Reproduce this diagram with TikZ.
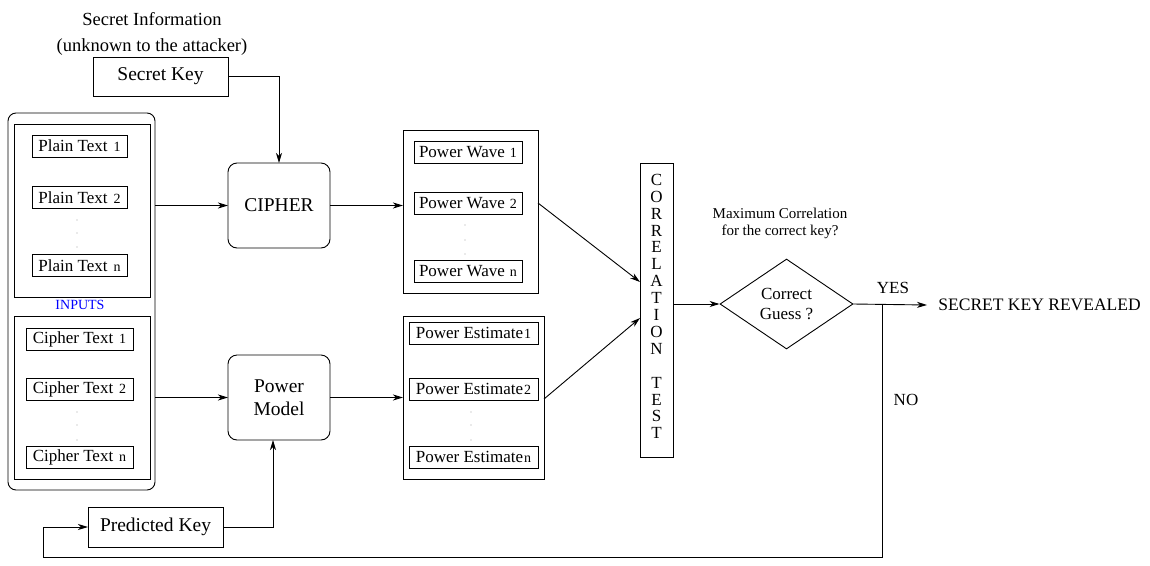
\documentclass[tikz,border=0pt]{standalone}
\usepackage{fontspec}
\setmainfont{Liberation Serif}
\usetikzlibrary{arrows.meta,shapes.geometric,calc}
\newcommand\subidx[1]{{\fontsize{14}{16}\selectfont #1}}
\begin{document}
\begin{tikzpicture}[x=1pt,y=-1pt,line width=0.9pt,
  big/.style={font=\fontsize{19.5}{23}\selectfont},
  mid/.style={font=\fontsize{17}{20}\selectfont},
  frame/.style={draw,inner sep=0pt,outer sep=0pt},
  rframe/.style={frame,rounded corners=9pt},
  item/.style={frame,mid,minimum height=22pt},
  arr/.style={-{Stealth[length=10pt,width=6pt,inset=3pt]}},
  dotmark/.style={fill=gray!70}]
\useasboundingbox (0,0) rectangle (1150,565);

% secret information
\node[font=\fontsize{18.5}{22}\selectfont,align=center] (secinfo) at (152,33.5)
  {Secret Information\\[4pt](unknown to the attacker)};
\node[frame,big,minimum width=135pt,minimum height=39pt] (sk) at (160.5,76.5) {Secret Key};

% inputs
\node[rframe,minimum width=147pt,minimum height=377pt,rounded corners=8pt] (inputs) at (81.5,301.5) {};
\node[frame,minimum width=136pt,minimum height=173pt] (pbox) at (82,210.5) {};
\node[frame,minimum width=136pt,minimum height=163pt] (cbox) at (82,397.5) {};
\node[font=\fontsize{14}{16}\selectfont,text=blue] (inlabel) at (80,305) {INPUTS};

\node[item,minimum width=95pt] (pt1) at (79.5,146) {Plain Text\hspace{6pt}\subidx{1}};
\node[item,minimum width=95pt] (pt2) at (79.5,197.5) {Plain Text\hspace{6pt}\subidx{2}};
\node[item,minimum width=95pt] (ptn) at (79.5,265.5) {Plain Text\hspace{6pt}\subidx{n}};
\foreach \y in {220,233,247} \fill[dotmark] (77,\y) circle (0.7);

\node[item,minimum width=107pt] (ct1) at (79.5,339) {Cipher Text\hspace{6pt}\subidx{1}};
\node[item,minimum width=107pt] (ct2) at (79.5,389) {Cipher Text\hspace{6pt}\subidx{2}};
\node[item,minimum width=107pt] (ctn) at (79.5,457) {Cipher Text\hspace{6pt}\subidx{n}};
\foreach \y in {412,425,440} \fill[dotmark] (77,\y) circle (0.7);

% processing blocks
\node[rframe,big,minimum width=102pt,minimum height=85pt] (cipher) at (279,205.5) {CIPHER};
\node[rframe,big,minimum width=102pt,minimum height=85pt,align=center] (pm) at (279,397.5) {Power\\Model};
\node[frame,big,minimum width=135pt,minimum height=40pt] (pk) at (155.5,527) {Predicted Key};

% power waves
\node[frame,minimum width=135pt,minimum height=163pt] (pwbox) at (470.5,211.5) {};
\node[item,minimum width=108pt] (pw1) at (468,152) {Power Wave\hspace{5pt}\subidx{1}};
\node[item,minimum width=108pt] (pw2) at (468,203) {Power Wave\hspace{5pt}\subidx{2}};
\node[item,minimum width=108pt] (pwn) at (468,271) {Power Wave\hspace{5pt}\subidx{n}};
\foreach \y in {225,240,254} \fill[dotmark] (465,\y) circle (0.7);

% power estimates
\node[frame,minimum width=141pt,minimum height=163pt] (pebox) at (473.5,397.5) {};
\node[item,minimum width=129pt] (pe1) at (473.5,333) {Power Estimate\hspace{1pt}\subidx{1}};
\node[item,minimum width=129pt] (pe2) at (473.5,389) {Power Estimate\hspace{1pt}\subidx{2}};
\node[item,minimum width=129pt] (pen) at (473.5,457) {Power Estimate\hspace{1pt}\subidx{n}};
\foreach \y in {412,425,440} \fill[dotmark] (471,\y) circle (0.7);

% correlation test
\node[frame,minimum width=33pt,minimum height=294pt] (corr) at (656.5,310) {};
\node[mid,align=center,font=\fontsize{17}{16.9}\selectfont] (corrtext) at (656.5,306.5)
  {C\\O\\R\\R\\E\\L\\A\\T\\I\\O\\N\\\mbox{}\\T\\E\\S\\T};

% decision
\node[font=\fontsize{15}{17}\selectfont,align=center] (note) at (780,223.5)
  {Maximum Correlation\\for the correct key?};
\node[draw,diamond,mid,align=center,inner sep=0pt,minimum width=133pt,minimum height=90pt] (dec) at (786.5,304)
  {Correct\\Guess ?};
\node[font=\fontsize{17.5}{20}\selectfont,anchor=west,inner xsep=11pt,inner ysep=0pt] (reveal) at (927,305)
  {SECRET KEY REVEALED};
\node[mid] (yes) at (893,288) {YES};
\node[mid] (no) at (906,400) {NO};
\coordinate (br) at (882,305);
\coordinate (lowr) at (882,557);
\coordinate (lowl) at (43,557);

% connectors
\draw[arr] (sk.east) -| (cipher.north);
\draw[arr] (inputs.east |- cipher.west) -- (cipher.west);
\draw[arr] (inputs.east |- pm.west) -- (pm.west);
\draw[arr] (pk.east) -| ([xshift=-6pt]pm.south);
\draw[arr] (cipher.east) -- (cipher.east -| pwbox.west);
\draw[arr] (pm.east) -- (pm.east -| pebox.west);
\draw[arr] (pw2.east -| pwbox.east) -- ([yshift=28pt]corr.west);
\draw[arr] ($(pe2.east -| pebox.east)+(0,10)$) -- ([yshift=-8pt]corr.west);
\draw[arr] (corr.east |- dec.west) -- (dec.west);
\draw[arr] (dec.east) -- (reveal.west);
\draw[arr] (br) -- (lowr) -- (lowl) |- (pk.west);
\end{tikzpicture}
\end{document}
